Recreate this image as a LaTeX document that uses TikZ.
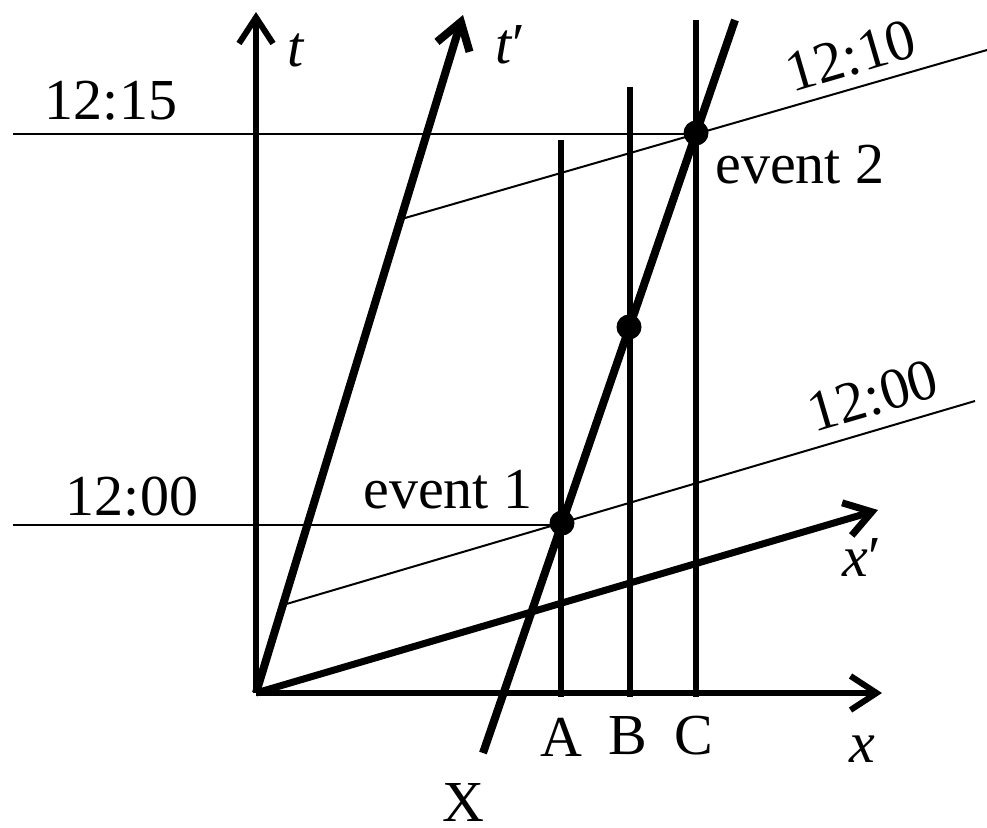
\documentclass[tikz,border=0pt]{standalone}
\usepackage{fontspec}
\setmainfont{Liberation Serif}
\usetikzlibrary{arrows.meta}
\begin{document}
\begin{tikzpicture}[x=1pt,y=-1pt,
  thin line/.style={line width=2pt},
  axis/.style={line width=6pt,-{Straight Barb[length=26pt,width=34pt]}},
  world/.style={line width=6pt},
  label/.style={inner sep=0pt,font=\fontsize{58}{60}\selectfont},
  dot/.style={circle,fill=black,inner sep=0pt,minimum size=25pt}]
\useasboundingbox (0,0) rectangle (987,827);
% coordinates
\coordinate (O) at (256,693);
\coordinate (Ttop) at (256,12);
\coordinate (Tptop) at (463,15);
\coordinate (Xend) at (882,693);
\coordinate (Xpend) at (878,510);
\coordinate (Abot) at (561,697);
\coordinate (Atop) at (561,140);
\coordinate (Bbot) at (630,697);
\coordinate (Btop) at (630,87);
\coordinate (Cbot) at (696,697);
\coordinate (Ctop) at (696,20);
\coordinate (Xbot) at (483,753);
\coordinate (Xtop) at (735,20);
\coordinate (Ls) at (283,605);
\coordinate (Le) at (975,401);
\coordinate (Ms) at (405,218);
\coordinate (Me) at (987,50);
\coordinate (H1s) at (13,134);
\coordinate (H2s) at (13,525);
% thin lines
\draw[thin line] (H1s) -- (696,134);
\draw[thin line] (H2s) -- (562,525);
\draw[thin line] (Ls) -- (Le);
\draw[thin line] (Ms) -- (Me);
% world lines
\draw[world] (Abot) -- (Atop);
\draw[world] (Bbot) -- (Btop);
\draw[world] (Cbot) -- (Ctop);
\draw[line width=8pt] (Xbot) -- (Xtop);
% axes
\draw[axis] (O) -- (Ttop);
\draw[axis,line width=8pt] (O) -- (Tptop);
\draw[axis] (256,693) -- (Xend);
\draw[axis,line width=7pt] (O) -- (Xpend);
% events
\node[dot] (e1) at (562,523) {};
\node[dot] (em) at (629,327) {};
\node[dot] (e2) at (696,133) {};
% labels
\node[label] (lt) at (296,50) {\textit{t}};
\node[label] (ltp) at (510,45) {\textit{t}′};
\node[label] (lx) at (862,749) {\textit{x}};
\node[label] (lxp) at (862,558) {\textit{x}′};
\node[label] (l1215) at (111,101) {12:15};
\node[label] (l1200) at (132,497) {12:00};
\node[label] (ev1) at (448,490) {event 1};
\node[label] (ev2) at (800,165) {event 2};
\node[label,rotate=16.3] (l1210) at (851,56) {12:10};
\node[label,rotate=16.3] (l1200p) at (873,396) {12:00};
\node[label] (lA) at (561,737) {A};
\node[label] (lB) at (628,736) {B};
\node[label] (lC) at (694,736) {C};
\node[label] (lX) at (463,802) {X};
\end{tikzpicture}
\end{document}
